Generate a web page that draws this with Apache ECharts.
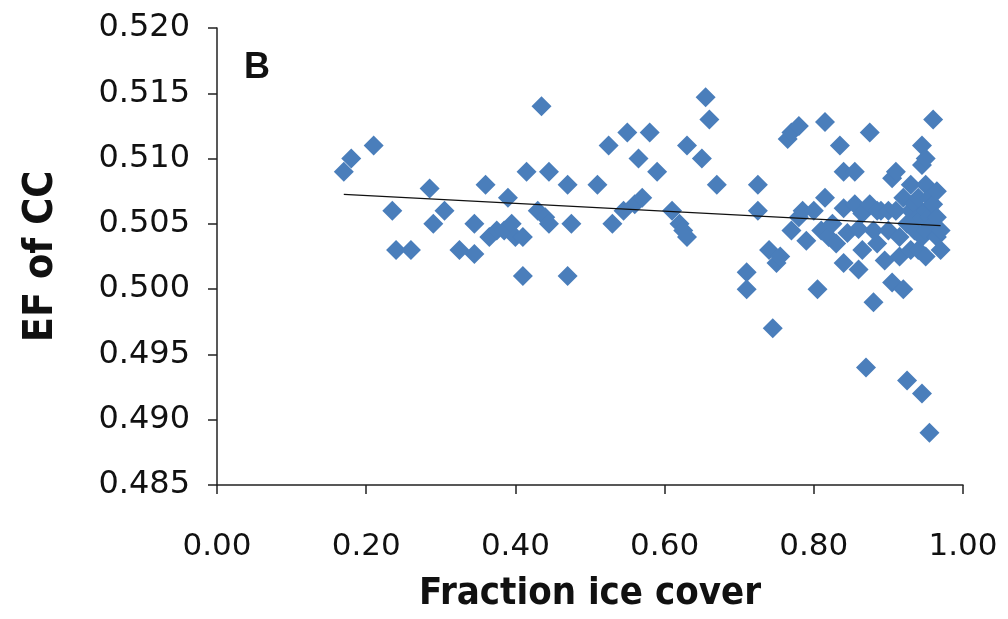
<!DOCTYPE html>
<html><head><meta charset="utf-8">
<script src="https://cdn.jsdelivr.net/npm/echarts@6/dist/echarts.min.js"></script>
<style>html,body{margin:0;padding:0;background:#fff}#c{width:1008px;height:619px}</style>
</head><body><div id="c"></div>
<script>
const iceCover = [0.17,0.18,0.21,0.235,0.24,0.26,0.285,0.29,0.305,0.325,0.345,0.345,0.36,0.365,0.375,0.385,0.39,0.395,0.40,0.41,0.41,0.415,0.43,0.435,0.44,0.445,0.445,0.47,0.47,0.475,0.51,0.525,0.53,0.545,0.55,0.56,0.565,0.57,0.58,0.59,0.61,0.62,0.625,0.63,0.63,0.65,0.655,0.66,0.67,0.71,0.71,0.725,0.725,0.74,0.745,0.75,0.755,0.765,0.77,0.78,0.77,0.78,0.785,0.79,0.80,0.805,0.81,0.815,0.815,0.82,0.825,0.83,0.835,0.84,0.84,0.845,0.84,0.855,0.855,0.86,0.86,0.865,0.865,0.87,0.875,0.875,0.88,0.88,0.885,0.885,0.89,0.895,0.90,0.90,0.905,0.905,0.91,0.91,0.915,0.915,0.92,0.92,0.925,0.925,0.93,0.93,0.93,0.935,0.935,0.94,0.94,0.94,0.945,0.945,0.945,0.945,0.945,0.95,0.95,0.95,0.95,0.95,0.955,0.955,0.955,0.96,0.96,0.96,0.965,0.965,0.97,0.97,0.965];
const efCC = [0.509,0.510,0.511,0.506,0.503,0.503,0.5077,0.505,0.506,0.503,0.5027,0.505,0.508,0.504,0.5045,0.5045,0.507,0.505,0.504,0.501,0.504,0.509,0.506,0.514,0.5055,0.509,0.505,0.508,0.501,0.505,0.508,0.511,0.505,0.506,0.512,0.5065,0.510,0.507,0.512,0.509,0.506,0.505,0.5045,0.511,0.504,0.510,0.5147,0.513,0.508,0.5013,0.500,0.508,0.506,0.503,0.497,0.502,0.5025,0.5115,0.512,0.5125,0.5045,0.5055,0.506,0.5037,0.506,0.500,0.5045,0.507,0.5128,0.504,0.505,0.5035,0.511,0.509,0.5062,0.5043,0.502,0.509,0.5065,0.5015,0.5046,0.503,0.5058,0.494,0.512,0.5065,0.499,0.5045,0.506,0.5035,0.506,0.5022,0.506,0.5045,0.5005,0.5085,0.509,0.506,0.504,0.5025,0.500,0.507,0.505,0.493,0.508,0.506,0.503,0.5045,0.5065,0.5055,0.503,0.507,0.5095,0.511,0.492,0.5055,0.504,0.510,0.508,0.506,0.5045,0.5025,0.489,0.5055,0.507,0.513,0.5065,0.505,0.5055,0.504,0.5045,0.503,0.5075];
const xTicks = ['0.00','0.20','0.40','0.60','0.80','1.00'];
const yTicks = ['0.485','0.490','0.495','0.500','0.505','0.510','0.515','0.520'];

const pts = iceCover.map((x,i)=>[x, efCC[i]]);
// least-squares linear trendline across data range
const n = pts.length;
let sx=0,sy=0,sxx=0,sxy=0;
pts.forEach(([x,y])=>{sx+=x;sy+=y;sxx+=x*x;sxy+=x*y;});
const slope = (n*sxy - sx*sy)/(n*sxx - sx*sx);
const icpt = (sy - slope*sx)/n;
const xmin = Math.min(...iceCover), xmax = Math.max(...iceCover);
const trend = [[xmin, icpt+slope*xmin],[xmax, icpt+slope*xmax]];

const tickFont = '"DejaVu Sans",sans-serif';
const titleFont = '"DejaVu Sans Condensed","Liberation Sans Narrow",sans-serif';
const chart = echarts.init(document.getElementById('c'));
chart.setOption({
  animation:false,
  grid:{left:217,right:45,top:28,bottom:134,containLabel:false,outerBoundsMode:'none'},
  xAxis:{type:'value',min:0,max:1,interval:0.2,
    axisLine:{lineStyle:{color:'#222',width:1.5}},
    axisTick:{show:true,length:9,lineStyle:{color:'#222',width:1.5}},
    splitLine:{show:false},
    axisLabel:{color:'#111',fontSize:31,fontFamily:tickFont,margin:46,
      formatter:(v)=>xTicks[Math.round(v/0.2)]},
    name:'Fraction ice cover',nameLocation:'middle',nameGap:90,
    nameTextStyle:{color:'#111',fontSize:38,fontWeight:'bold',fontFamily:titleFont}},
  yAxis:{type:'value',min:0.485,max:0.520,interval:0.005,
    axisLine:{show:true,lineStyle:{color:'#222',width:1.5}},
    axisTick:{show:true,length:9,lineStyle:{color:'#222',width:1.5}},
    splitLine:{show:false},
    axisLabel:{color:'#111',fontSize:32,fontFamily:tickFont,margin:27,
      formatter:(v)=>yTicks[Math.round((v-0.485)/0.005)]},
    name:'EF of CC',nameLocation:'middle',nameGap:155,
    nameTextStyle:{color:'#111',fontSize:41,fontWeight:'bold',fontFamily:titleFont}},
  graphic:[{type:'text',left:244,top:50,style:{text:'B',fontSize:36,fontWeight:'bold',fontFamily:'"Liberation Sans",Arial,sans-serif',fill:'#111'}}],
  series:[
    {type:'scatter',data:pts,symbol:'diamond',symbolSize:[20,20],
      itemStyle:{color:'#4a7ebb',opacity:1},z:2},
    {type:'line',data:trend,symbol:'none',lineStyle:{color:'#111',width:1.3},z:3}
  ]
});
</script></body></html>
